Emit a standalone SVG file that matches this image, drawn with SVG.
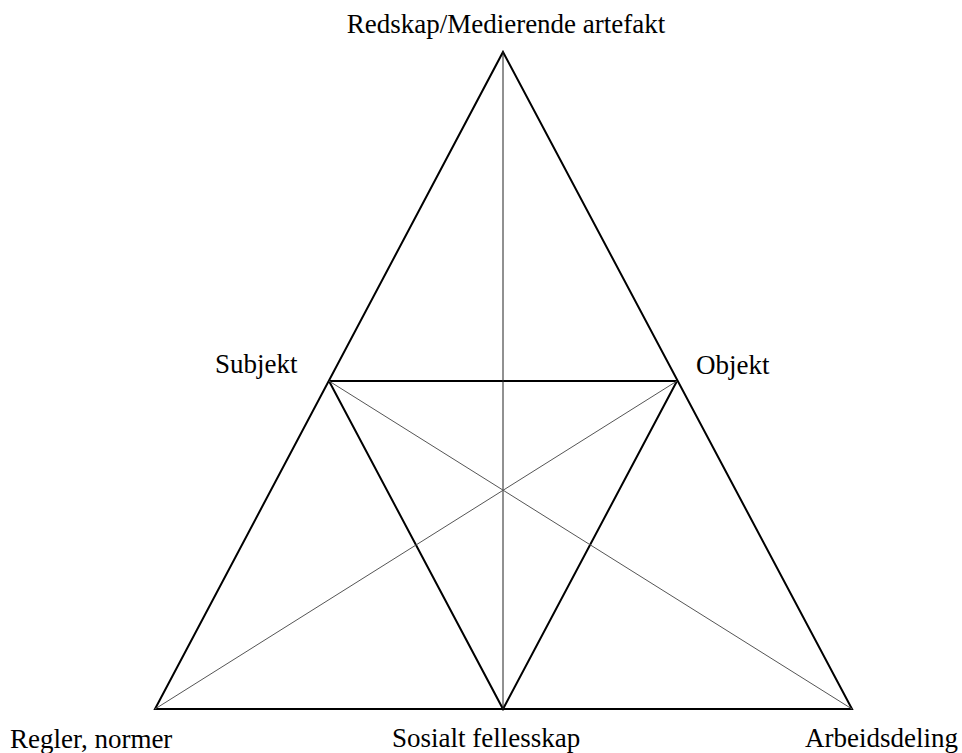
<svg xmlns="http://www.w3.org/2000/svg" width="962" height="753" viewBox="0 0 962 753">
<style>
.thick{stroke:#000;stroke-width:2;fill:none;stroke-linejoin:miter}
.thin{stroke:#222;stroke-width:1;fill:none}
.diag{stroke:#555;stroke-width:1;fill:none}
text{font-family:"Liberation Serif","Times New Roman",serif;font-size:27px;fill:#000}
</style>
<rect width="962" height="753" fill="#fff"/>
<g id="connectors">
<polygon class="thick" points="503,52 852,709 155,709"/>
<line class="thick" x1="329" y1="381" x2="677" y2="381"/>
<polyline class="thick" points="329,381 503,709 677,381"/>
<line class="thin" x1="503" y1="52" x2="503" y2="709"/>
<line class="diag" x1="329" y1="381" x2="852" y2="709"/>
<line class="diag" x1="677" y1="381" x2="155" y2="709"/>
</g>
<g id="node-redskap"><text x="506" y="33" text-anchor="middle">Redskap/Medierende artefakt</text></g>
<g id="node-subjekt"><text x="215" y="373">Subjekt</text></g>
<g id="node-objekt"><text x="696" y="374">Objekt</text></g>
<g id="node-regler"><text x="10" y="748">Regler, normer</text></g>
<g id="node-sosialt"><text x="392" y="747">Sosialt fellesskap</text></g>
<g id="node-arbeidsdeling"><text x="958" y="747" text-anchor="end">Arbeidsdeling</text></g>
</svg>
